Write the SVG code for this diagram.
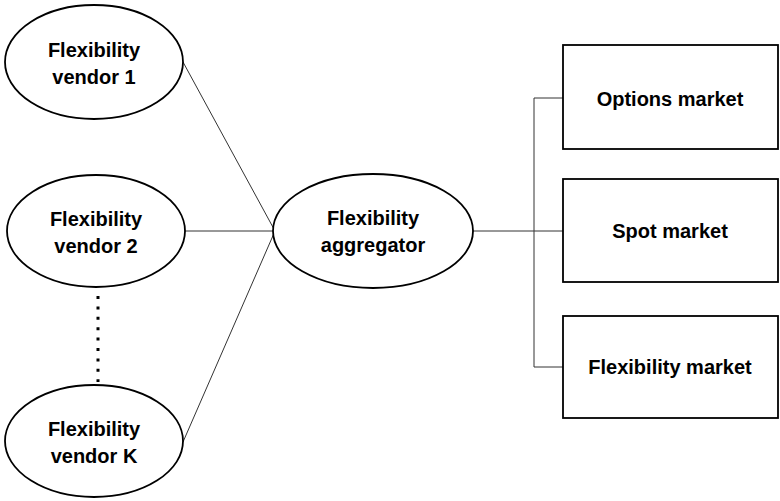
<svg xmlns="http://www.w3.org/2000/svg" width="780" height="501" viewBox="0 0 780 501">
  <style>
    .node { fill: #ffffff; stroke: #000000; stroke-width: 1.8; }
    .label { font-family: "Liberation Sans", Arial, sans-serif; font-weight: bold; font-size: 20px; fill: #000000; text-anchor: middle; }
    .link { fill: none; stroke: #333333; stroke-width: 1; }
    .dots { fill: none; stroke: #000000; stroke-width: 3; stroke-dasharray: 3 7.4; }
  </style>
  <rect width="780" height="501" fill="#ffffff"/>

  <g id="connectors">
    <line class="link" x1="183" y1="62" x2="275" y2="231"/>
    <line class="link" x1="185" y1="231" x2="275" y2="231"/>
    <line class="link" x1="183" y1="442" x2="275" y2="231"/>
    <line class="link" x1="473" y1="231" x2="563" y2="231"/>
    <polyline class="link" points="563,98 534,98 534,367 563,367"/>
    <line class="dots" x1="98" y1="296" x2="98" y2="382"/>
  </g>

  <g id="vendor-1">
    <ellipse class="node" cx="94" cy="62" rx="89" ry="57"/>
    <text class="label" x="94" y="57">Flexibility</text>
    <text class="label" x="94" y="84">vendor 1</text>
  </g>

  <g id="vendor-2">
    <ellipse class="node" cx="96" cy="231" rx="89" ry="56"/>
    <text class="label" x="96" y="226">Flexibility</text>
    <text class="label" x="96" y="253">vendor 2</text>
  </g>

  <g id="vendor-k">
    <ellipse class="node" cx="94" cy="441" rx="89" ry="56"/>
    <text class="label" x="94" y="436">Flexibility</text>
    <text class="label" x="94" y="463">vendor K</text>
  </g>

  <g id="aggregator">
    <ellipse class="node" cx="373" cy="231" rx="100" ry="57"/>
    <text class="label" x="373" y="225">Flexibility</text>
    <text class="label" x="373" y="252">aggregator</text>
  </g>

  <g id="options-market">
    <rect class="node" x="563" y="45" width="215" height="104"/>
    <text class="label" x="670" y="106">Options market</text>
  </g>

  <g id="spot-market">
    <rect class="node" x="563" y="179" width="215" height="103"/>
    <text class="label" x="670" y="238">Spot market</text>
  </g>

  <g id="flexibility-market">
    <rect class="node" x="563" y="316" width="215" height="102"/>
    <text class="label" x="670" y="374">Flexibility market</text>
  </g>
</svg>
